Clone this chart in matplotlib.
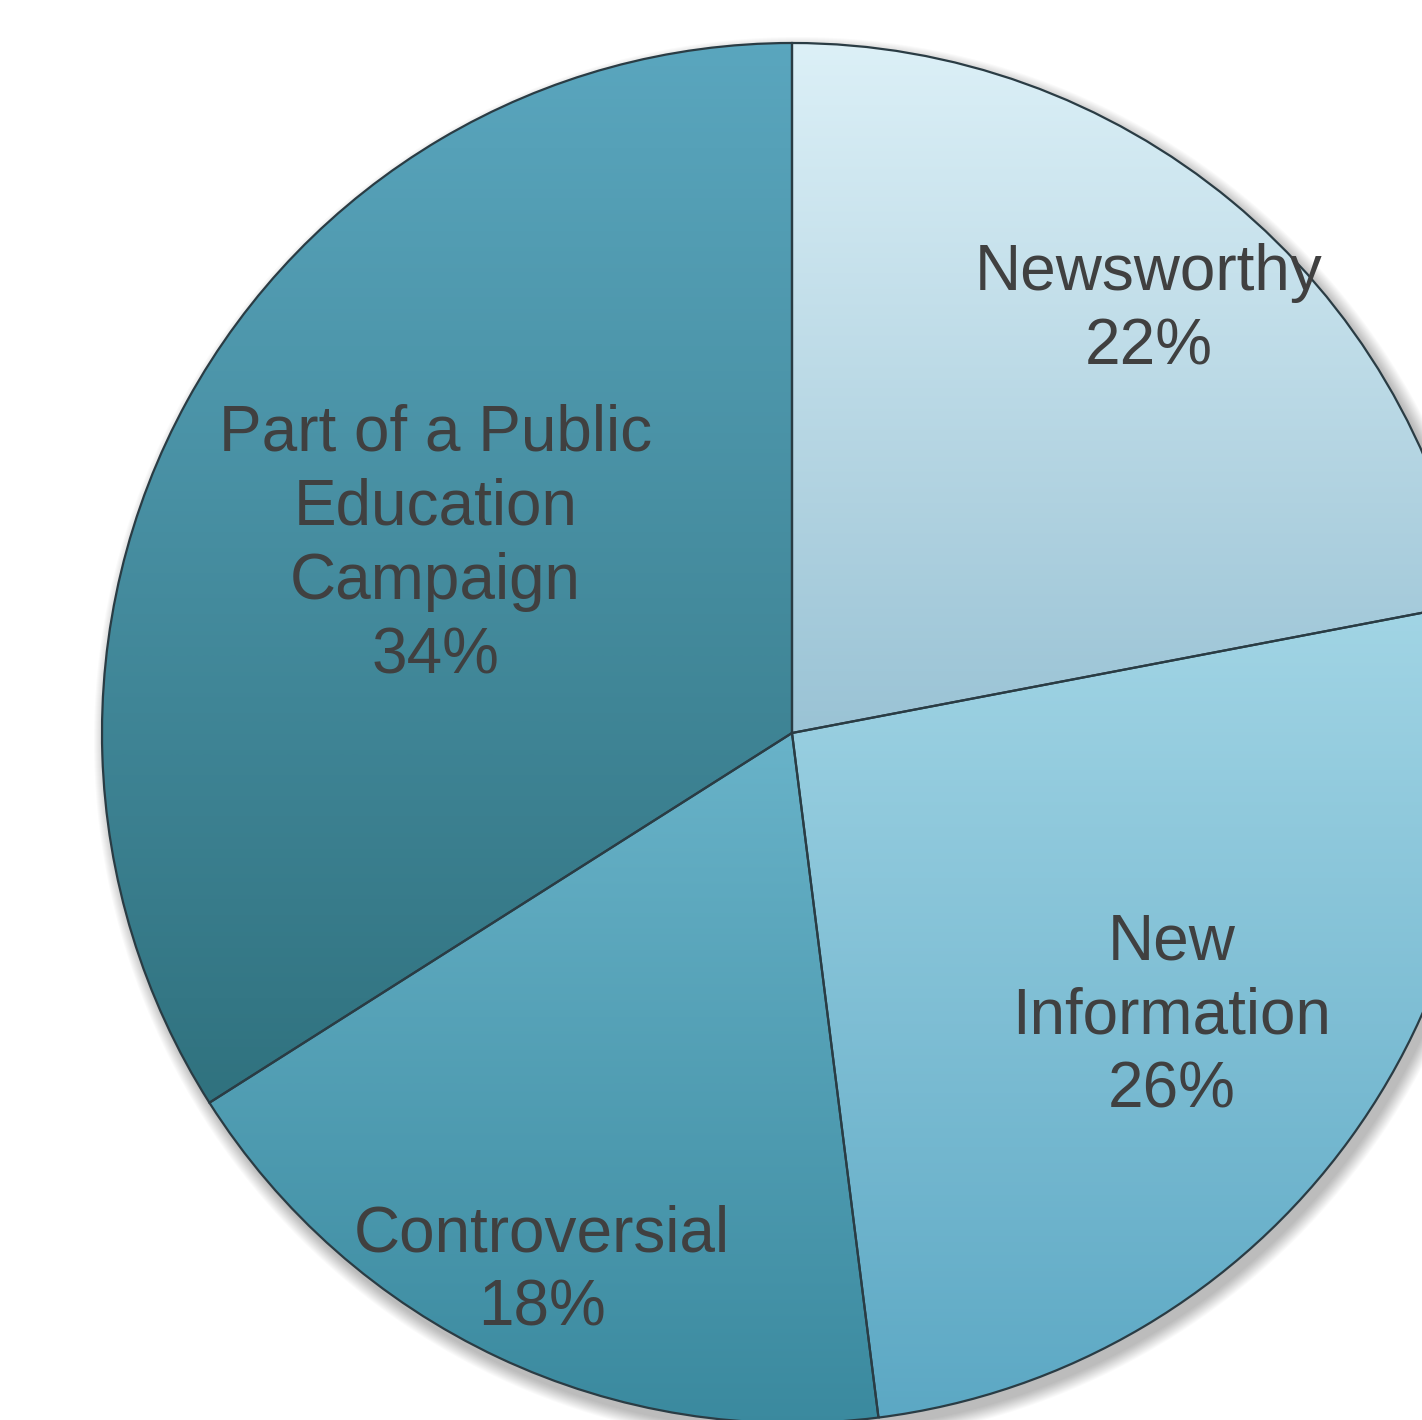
import numpy as np
import matplotlib
matplotlib.use("Agg")
import matplotlib.pyplot as plt
from matplotlib.colors import LinearSegmentedColormap
from matplotlib.patches import Circle

labels = ["Newsworthy", "New\nInformation", "Controversial", "Part of a Public\nEducation\nCampaign"]
values = [22, 26, 18, 34]
top_colors = ["#dcf0f7", "#a2d5e5", "#69b3c9", "#5aa6be"]
bottom_colors = ["#9ac3d5", "#5ca8c4", "#3a899e", "#30727f"]
label_radius = [0.81, 0.68, 0.85, 0.59]

W, H = 1422, 1420
fig = plt.figure(figsize=(W / 100, H / 100), dpi=100)
ax = fig.add_axes([0, 0, 1, 1])

cx, cy, R = 792, H - 733, 690

# soft drop shadow
for i in range(14):
    ax.add_patch(Circle((cx + 6, cy - 8), R + 14 - i, color="black",
                        alpha=0.018, lw=0, zorder=0))

wedges, _ = ax.pie(values, center=(cx, cy), radius=R, startangle=90,
                   counterclock=False, frame=True,
                   wedgeprops=dict(linewidth=1.6, edgecolor="#2a3c44"))
ax.set_xlim(0, W)
ax.set_ylim(0, H)
ax.set_aspect("equal")
ax.axis("off")

grad = np.linspace(0, 1, 256).reshape(-1, 1)
for w, c0, c1 in zip(wedges, bottom_colors, top_colors):
    w.set_facecolor("none")
    w.set_zorder(3)
    v = w.get_path().vertices
    y0, y1 = v[:, 1].min(), v[:, 1].max()
    x0, x1 = v[:, 0].min(), v[:, 0].max()
    cmap = LinearSegmentedColormap.from_list("g", [c0, c1])
    im = ax.imshow(grad, extent=[x0, x1, y0, y1], origin="lower",
                   cmap=cmap, aspect="auto", zorder=2, interpolation="bicubic")
    im.set_clip_path(w)

# labels
total = sum(values)
start = 90.0
for lab, v, rf in zip(labels, values, label_radius):
    span = 360.0 * v / total
    mid = np.deg2rad(start - span / 2)
    start -= span
    x = cx + rf * R * np.cos(mid)
    y = cy + rf * R * np.sin(mid) - 8
    ax.text(x, y, f"{lab}\n{v}%", ha="center", va="center",
            fontsize=46, color="#404040", family="Liberation Sans",
            linespacing=1.3, zorder=5)

fig.savefig("out.png", dpi=100)
